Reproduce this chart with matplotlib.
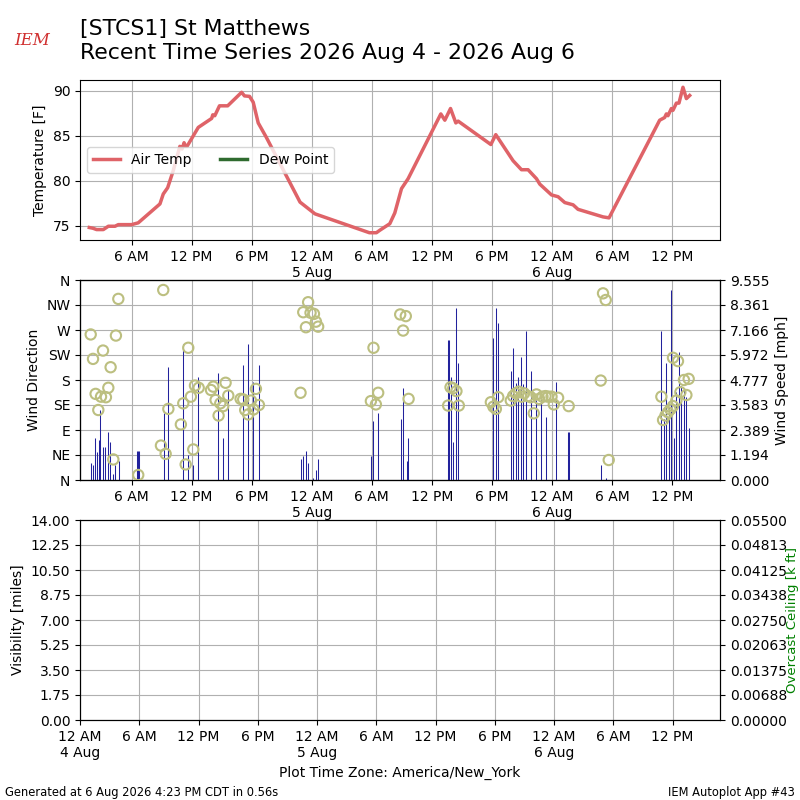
import matplotlib
matplotlib.use("Agg")
import matplotlib.pyplot as plt
import numpy as np
from matplotlib.ticker import FormatStrFormatter

# ---- data (hours since 2026-08-04 00:00 America/New_York) ----
temp_hours = [1.77, 2.13, 2.50, 3.17, 3.67, 4.34, 4.67, 6.0, 6.66, 8.83, 9.16, 9.6,
              10.16, 10.82, 11.04, 11.24, 11.39, 11.54, 12.66, 14.0, 14.11, 14.31,
              14.78, 15.6, 16.99, 17.28, 17.78, 18.15, 18.65, 19.46, 22.83, 24.32,
              29.76, 30.46, 30.81, 31.8, 32.3, 32.97, 33.63, 36.9, 37.3, 37.87, 38.4,
              38.63, 41.9, 42.39, 44.12, 44.96, 45.62, 46.46, 46.79, 47.96, 48.62,
              49.29, 50.12, 50.61, 53.11, 53.71, 58.77, 59.27, 59.44, 59.6, 59.94,
              60.1, 60.44, 60.7, 61.1, 61.44, 61.77]
temp_f = [74.78, 74.7, 74.55, 74.55, 74.92, 74.92, 75.1, 75.1, 75.3, 77.4, 78.5, 79.2,
          81.1, 83.8, 83.5, 84.2, 83.8, 83.8, 85.9, 86.9, 87.3, 87.2,
          88.3, 88.3, 89.8, 89.4, 89.35, 88.7, 86.4, 84.8, 77.6, 76.3,
          74.2, 74.2, 74.48, 75.2, 76.4, 79.1, 80.2, 87.4, 86.7, 88.0, 86.4,
          86.6, 84.0, 85.1, 82.2, 81.2, 81.2, 80.2, 79.6, 78.4, 78.2,
          77.55, 77.3, 76.8, 75.96, 75.85, 86.7, 87.0, 87.4, 87.2, 88.0,
          87.8, 88.6, 88.6, 90.36, 89.1, 89.45]

speed_hours = [1.91, 2.17, 2.38, 2.57, 2.70, 2.87, 3.17, 3.38, 3.67, 3.87, 4.17, 4.37, 4.70,
               6.51, 6.61, 6.70, 9.21, 9.67, 11.16, 11.66, 12.16, 12.66, 14.66, 15.15,
               15.66, 17.15, 17.65, 18.15, 18.68, 22.95, 23.15, 23.45, 23.64, 24.15,
               24.45, 24.64, 29.96, 30.13, 30.64, 32.94, 33.13, 33.47, 33.63, 37.63,
               37.73, 37.9, 38.14, 38.43, 38.63, 42.15, 42.45, 42.64, 43.92, 44.12,
               44.42, 44.64, 44.91, 45.12, 45.42, 45.92, 46.44, 46.94, 47.42, 48.44,
               49.62, 49.68, 52.91, 53.41, 58.94, 59.17, 59.4, 59.67, 59.94, 60.2,
               60.44, 60.7, 60.94, 61.2, 61.44, 61.7]
speed_mph = [0.83, 0.72, 1.99, 1.35, 1.91, 3.34, 1.59, 1.59, 2.28, 1.83, 0.29, 0.72, 0.91,
             1.39, 1.39, 1.39, 3.22, 5.41, 6.50, 1.18, 0.72, 4.94, 5.13, 2.02,
             4.30, 5.49, 6.50, 4.68, 5.49, 1.0, 1.15, 1.39, 0.83, 0.11,
             0.48, 1.0, 1.15, 2.82, 3.19, 2.91, 4.41, 0.91, 2.02, 6.69,
             6.69, 4.94, 1.82, 8.20, 5.57, 6.77, 8.20, 7.52, 5.22, 6.29,
             4.62, 4.90, 5.86, 4.59, 7.12, 5.21, 3.8, 3.95, 3.03, 4.68,
             2.29, 2.29, 0.72, 0.08, 7.12, 2.9, 5.57, 3.5, 9.1, 1.99,
             4.19, 6.13, 4.5, 4.3, 3.98, 2.47]

dir_hours = [1.91, 2.14, 2.40, 2.67, 2.94, 3.14, 3.43, 3.67, 3.90, 4.17, 4.43, 4.67,
             6.66, 8.93, 9.16, 9.40, 9.67, 10.92, 11.16, 11.40, 11.66, 11.92, 12.16,
             12.33, 12.70, 13.93, 14.16, 14.39, 14.69, 14.86, 15.15, 15.39, 15.66,
             16.89, 17.15, 17.35, 17.65, 17.92, 18.18, 18.42, 18.72, 22.88, 23.15,
             23.42, 23.64, 23.88, 24.22, 24.42, 24.64, 29.91, 30.17, 30.41, 30.64,
             32.84, 33.13, 33.4, 33.68, 37.63, 37.87, 38.14, 38.46, 38.7, 41.9,
             42.15, 42.4, 42.64, 43.89, 44.12, 44.39, 44.69, 44.96, 45.22, 45.62,
             45.89, 46.19, 46.46, 46.72, 47.06, 47.36, 47.62, 47.96, 48.19, 48.62,
             49.68, 52.88, 53.11, 53.38, 53.68, 58.94, 59.11, 59.35, 59.6, 59.84,
             60.1, 60.1, 60.44, 60.6, 60.84, 61.2, 61.44, 61.67]
dir_deg = [262, 218, 155, 126, 150, 233, 149, 166, 203, 37, 260, 326,
           9, 62, 342, 47, 128, 100, 138, 28, 238, 150, 55,
           170, 166, 162, 168, 144, 116, 138, 133, 175, 152,
           146, 145, 126, 118, 143, 127, 164, 135, 157, 302,
           275, 320, 301, 299, 285, 276, 142, 238, 136, 157,
           298, 269, 295, 146, 134, 167, 165, 160, 134, 140,
           132, 128, 149, 143, 151, 156, 159, 150, 156, 151,
           149, 120, 154, 146, 150, 151, 150, 150, 136, 148,
           133, 179, 336, 324, 36, 150, 108, 116, 122, 127,
           133, 220, 143, 214, 158, 180, 153, 182]

tick_hours = [0, 6, 12, 18, 24, 30, 36, 42, 48, 54, 60]
tick_labels = ["12 AM\n4 Aug", "6 AM", "12 PM", "6 PM", "12 AM\n5 Aug", "6 AM",
               "12 PM", "6 PM", "12 AM\n6 Aug", "6 AM", "12 PM"]
dir_labels = ["N", "NE", "E", "SE", "S", "SW", "W", "NW", "N"]

# ---- figure ----
plt.rcParams["font.size"] = 10
fig = plt.figure(figsize=(8, 8), dpi=100)

ax1 = fig.add_axes([0.1, 0.7, 0.8, 0.2])
ax2 = fig.add_axes([0.1, 0.4, 0.8, 0.25])
ax3 = fig.add_axes([0.1, 0.1, 0.8, 0.25])

top_xlim = (0.84, 64.8)
grid_color = "#b0b0b0"

# temperature
ax1.plot(temp_hours, temp_f, color="#df6368", lw=2.5, label="Air Temp", zorder=3)
ax1.plot([], [], color="#2f6b2f", lw=2.5, label="Dew Point")
ax1.set_ylabel("Temperature [F]")
ax1.grid(True, color=grid_color)
ax1.set_xlim(*top_xlim)
ax1.set_xticks(tick_hours[1:])
ax1.set_xticklabels(tick_labels[1:])
ax1.set_yticks([75, 80, 85, 90])
ax1.legend(loc="center left", ncol=2)

# wind
ax2.set_xlim(*top_xlim)
ax2.set_ylim(0, 360)
ax2.set_yticks(np.arange(0, 361, 45))
ax2.set_yticklabels(dir_labels)
ax2.set_ylabel("Wind Direction")
ax2.set_xticks(tick_hours[1:])
ax2.set_xticklabels(tick_labels[1:])
ax2.grid(True, color=grid_color)
ax2b = ax2.twinx()
ax2b.vlines(speed_hours, 0, speed_mph, color="#22229c", lw=0.75, zorder=2)
ax2b.set_ylim(0, 9.555)
ax2b.set_yticks(np.linspace(0, 9.555, 9))
ax2b.yaxis.set_major_formatter(FormatStrFormatter("%.3f"))
ax2b.set_ylabel("Wind Speed [mph]")
ax2b.set_xlim(*top_xlim)
ax2c = ax2.twinx()
ax2c.set_ylim(0, 360)
ax2c.set_yticks([])
ax2c.scatter(dir_hours, dir_deg, s=55, facecolors="none", edgecolors="#bcbf80",
             linewidths=1.5, zorder=4)
ax2c.set_xlim(*top_xlim)

# visibility / ceiling
ax3.set_xlim(0, 64.8)
ax3.set_ylim(0, 14)
ax3.set_yticks(np.linspace(0, 14, 9))
ax3.yaxis.set_major_formatter(FormatStrFormatter("%.2f"))
ax3.set_ylabel("Visibility [miles]")
ax3.set_xticks(tick_hours)
ax3.set_xticklabels(tick_labels)
ax3.grid(True, color=grid_color)
ax3.set_xlabel("Plot Time Zone: America/New_York")
ax3b = ax3.twinx()
ax3b.set_ylim(0, 0.055)
ax3b.set_yticks(np.linspace(0, 0.055, 9))
ax3b.yaxis.set_major_formatter(FormatStrFormatter("%.5f"))
ax3b.set_ylabel("Overcast Ceiling [k ft]", color="green", labelpad=-1, fontsize=9.5)

# titles and footer
fig.text(0.1, 0.976, "[STCS1] St Matthews\nRecent Time Series 2026 Aug 4 - 2026 Aug 6",
         fontsize=15.8, va="top", ha="left", linespacing=1.25)
fig.text(0.018, 0.944, "IEM", color="#d03030", fontsize=12, style="italic",
         family="DejaVu Serif")
fig.text(0.006, 0.005, "Generated at 6 Aug 2026 4:23 PM CDT in 0.56s", fontsize=8.3)
fig.text(0.994, 0.005, "IEM Autoplot App #43", fontsize=8.3, ha="right")

fig.savefig("out.png", dpi=100)
